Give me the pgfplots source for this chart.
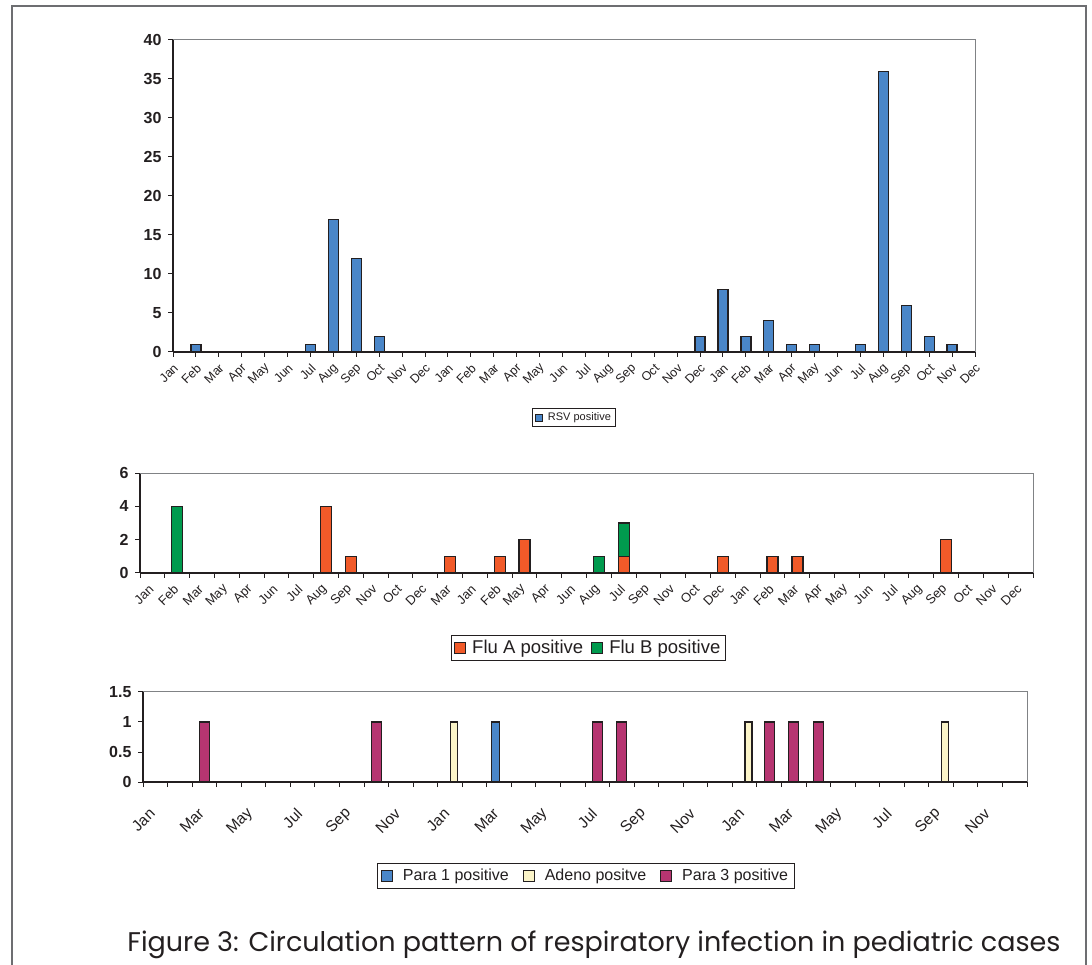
\documentclass[border=0pt]{standalone}
\usepackage{pgfplots}
\pgfplotsset{compat=1.18}
\usepackage{fontspec}
\setmainfont{Liberation Sans}
\newfontfamily\capfont{Poppins}
\definecolor{rsv}{HTML}{4A86C8}
\definecolor{fluA}{HTML}{F15A29}
\definecolor{fluB}{HTML}{009A4E}
\definecolor{ade}{HTML}{FBF4C8}
\definecolor{parathree}{HTML}{B63571}
\definecolor{edge}{HTML}{231F20}
\definecolor{framegray}{HTML}{6D6E71}
\definecolor{boxgray}{HTML}{808285}
\pgfplotsset{
  chart/.style={
    scale only axis, anchor=south west, enlargelimits=false,
    axis x line*=bottom, axis y line*=left,
    axis line style={edge, line width=1.1pt},
    tick style={edge, line width=1pt},
    tick align=outside, major tick length=5pt, minor tick length=5pt,
    /pgf/number format/assume math mode=true,
    yticklabel style={font=\bfseries\fontsize{16}{16}\selectfont, text=edge, xshift=-3pt},
    xticklabel style={text=edge},
    after end axis/.code={\draw[boxgray, line width=1pt] (rel axis cs:0,1) -- (rel axis cs:1,1) -- (rel axis cs:1,0);},
    legend style={draw=edge, line width=0.7pt, text=edge, legend columns=-1},
  },
  bars/.style={draw=edge, line width=1.3pt},
}
\begin{document}
\begin{tikzpicture}[x=1pt,y=1pt]
\useasboundingbox (0,0) rectangle (1092,964);
\draw[framegray, line width=1.8pt] (12,-5) -- (12,958) -- (1086,958) -- (1086,-5);

% ---------------- RSV ----------------
\begin{axis}[chart, at={(173pt,612pt)}, width=802pt, height=312pt,
  xmin=0, xmax=35, ymin=0, ymax=40, ytick={0,5,...,40},
  xtick={0,...,35},
  xticklabels={Jan,Feb,Mar,Apr,May,Jun,Jul,Aug,Sep,Oct,Nov,Dec,Jan,Feb,Mar,Apr,May,Jun,Jul,Aug,Sep,Oct,Nov,Dec,Jan,Feb,Mar,Apr,May,Jun,Jul,Aug,Sep,Oct,Nov,Dec},
  xticklabel style={font=\fontsize{12.5}{12.5}\selectfont, inner sep=0pt, xshift=3pt, yshift=-9pt, rotate=45, anchor=east},
  legend style={at={(0.5,-0.1795)}, anchor=north, font=\fontsize{11}{13}\selectfont, inner sep=2.5pt,
    /tikz/every odd column/.append style={column sep=3pt},
    /tikz/every even column/.append style={column sep=3pt}},
  legend image code/.code={\draw[#1, line width=0.8pt] (0pt,-3.5pt) rectangle (7pt,3.5pt);},
]
\addplot[ybar, bar width=10pt, bars, fill=rsv] coordinates {
  (1,1) (6,1) (7,17) (8,12) (9,2) (23,2) (24,8) (25,2) (26,4) (27,1) (28,1)
  (30,1) (31,36) (32,6) (33,2) (34,1)};
\addlegendentry{RSV positive}
\end{axis}

% ---------------- Flu ----------------
\begin{axis}[chart, at={(140pt,391pt)}, width=893pt, height=100pt,
  xmin=-0.5, xmax=35.5, ymin=0, ymax=6, ytick={0,2,4,6},
  xtick={0,...,35}, major x tick style={draw=none},
  minor xtick={-0.5,0.5,...,35.5},
  xticklabels={Jan,Feb,Mar,May,Apr,Jun,Jul,Aug,Sep,Nov,Oct,Dec,Mar,Jan,Feb,May,Apr,Jun,Aug,Jul,Sep,Nov,Oct,Dec,Jan,Feb,Mar,Apr,May,Jun,Jul,Aug,Sep,Oct,Nov,Dec},
  xticklabel style={font=\fontsize{13}{13}\selectfont, inner sep=0pt, xshift=-1pt, yshift=-9pt, rotate=45, anchor=east},
  ybar stacked, bar width=11pt,
  legend style={at={(0.502,-0.62)}, anchor=north, font=\fontsize{18.5}{20}\selectfont, inner sep=3pt,
    /tikz/every odd column/.append style={column sep=4pt},
    /tikz/every even column/.append style={column sep=6pt}},
  legend image code/.code={\draw[#1, line width=1pt] (0pt,-5.5pt) rectangle (11pt,5.5pt);},
]
\addplot[bars, fill=fluA] coordinates {
  (0,0) (1,0) (2,0) (3,0) (4,0) (5,0) (6,0) (7,4) (8,1) (9,0) (10,0) (11,0)
  (12,1) (13,0) (14,1) (15,2) (16,0) (17,0) (18,0) (19,1) (20,0) (21,0) (22,0) (23,1)
  (24,0) (25,1) (26,1) (27,0) (28,0) (29,0) (30,0) (31,0) (32,2) (33,0) (34,0) (35,0)};
\addlegendentry{Flu A positive}
\addplot[bars, fill=fluB] coordinates {
  (0,0) (1,4) (2,0) (3,0) (4,0) (5,0) (6,0) (7,0) (8,0) (9,0) (10,0) (11,0)
  (12,0) (13,0) (14,0) (15,0) (16,0) (17,0) (18,1) (19,2) (20,0) (21,0) (22,0) (23,0)
  (24,0) (25,0) (26,0) (27,0) (28,0) (29,0) (30,0) (31,0) (32,0) (33,0) (34,0) (35,0)};
\addlegendentry{Flu B positive}
\end{axis}

% ---------------- Para / Adeno ----------------
\begin{axis}[chart, at={(143pt,182pt)}, width=884pt, height=90pt,
  xmin=-0.5, xmax=35.5, ymin=0, ymax=1.5, ytick={0,0.5,1,1.5},
  xtick={0,2,...,34}, major x tick style={draw=none},
  minor xtick={-0.5,0.5,...,35.5},
  xticklabels={Jan,Mar,May,Jul,Sep,Nov,Jan,Mar,May,Jul,Sep,Nov,Jan,Mar,May,Jul,Sep,Nov},
  xticklabel style={font=\fontsize{15.5}{15.5}\selectfont, inner sep=0pt, xshift=-3pt, yshift=-24pt, rotate=45, anchor=east},
  legend style={at={(0.5006,-0.9)}, anchor=north, font=\fontsize{16}{18}\selectfont, inner sep=4pt,
    /tikz/every odd column/.append style={column sep=8pt},
    /tikz/every even column/.append style={column sep=12pt}},
  legend image code/.code={\draw[#1, line width=1pt] (0pt,-5.5pt) rectangle (11pt,5.5pt);},
]
\addplot[ybar, bar width=8pt, bar shift=-3.4pt, bars, fill=rsv] coordinates {(14,1)};
\addlegendentry{Para 1 positive}
\addplot[ybar, bar width=7pt, bar shift=4pt, bars, fill=ade] coordinates {(12,1) (24,1) (32,1)};
\addlegendentry{Adeno positve}
\addplot[ybar, bar width=10pt, bar shift=0pt, bars, fill=parathree] coordinates {
  (2,1) (9,1) (18,1) (19,1) (25,1) (26,1) (27,1)};
\addlegendentry{Para 3 positive}
\end{axis}

\node[font=\capfont\fontsize{27}{32}\selectfont, text=edge, anchor=base] at (594,13) {Figure 3: Circulation pattern of respiratory infection in pediatric cases};
\end{tikzpicture}
\end{document}
